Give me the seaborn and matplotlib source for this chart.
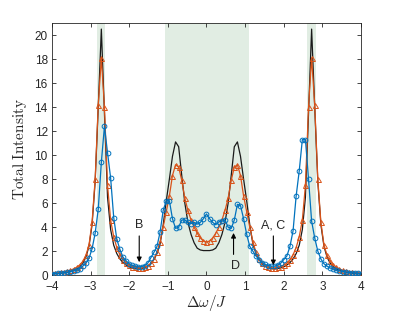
import numpy as np
import pandas as pd
import seaborn as sns
import matplotlib
matplotlib.use("Agg")
import matplotlib.pyplot as plt

# frequency grid (detuning / J)
dw = np.round(np.linspace(-4, 4, 101), 2)

# black line (no markers)
black = [0.10, 0.12, 0.14, 0.17, 0.20, 0.25, 0.31, 0.40, 0.52, 0.70,
         1.00, 1.50, 2.40, 4.20, 7.80, 14.0, 20.5, 13.5, 6.50, 3.80,
         2.50, 1.80, 1.35, 1.05, 0.85, 0.70, 0.60, 0.55, 0.52, 0.55,
         0.62, 0.75, 0.95, 1.30, 1.80, 2.60, 4.20, 6.20, 8.00, 9.90,
         11.1, 10.7, 8.30, 6.00, 4.40, 3.40, 2.70, 2.25, 2.10, 2.05,
         2.05,
         2.05, 2.10, 2.25, 2.70, 3.40, 4.40, 6.00, 8.30, 10.7, 11.1,
         9.90, 8.00, 6.20, 4.20, 2.60, 1.80, 1.30, 0.95, 0.75, 0.62,
         0.55, 0.52, 0.55, 0.60, 0.70, 0.85, 1.05, 1.35, 1.80, 2.50,
         3.80, 6.50, 13.5, 20.5, 14.0, 7.80, 4.20, 2.40, 1.50, 1.00,
         0.70, 0.52, 0.40, 0.31, 0.25, 0.20, 0.17, 0.14, 0.12, 0.10]

# orange triangles
orange = [0.15, 0.17, 0.20, 0.24, 0.28, 0.34, 0.42, 0.52, 0.66, 0.85,
          1.15, 1.65, 2.50, 4.40, 8.00, 14.2, 18.1, 14.0, 7.50, 4.60,
          3.20, 2.30, 1.70, 1.30, 1.00, 0.85, 0.72, 0.65, 0.60, 0.60,
          0.65, 0.78, 1.00, 1.35, 1.90, 2.80, 4.00, 5.30, 6.60, 8.30,
          9.20, 9.00, 7.90, 6.40, 5.40, 4.60, 4.00, 3.50, 3.10, 2.85,
          2.75,
          2.85, 3.10, 3.50, 4.00, 4.60, 5.40, 6.40, 7.90, 9.00, 9.20,
          8.30, 6.60, 5.30, 4.00, 2.80, 1.90, 1.35, 1.00, 0.78, 0.65,
          0.60, 0.60, 0.65, 0.72, 0.85, 1.00, 1.30, 1.70, 2.30, 3.20,
          4.60, 7.50, 14.0, 18.1, 14.2, 8.00, 4.40, 2.50, 1.65, 1.15,
          0.85, 0.66, 0.52, 0.42, 0.34, 0.28, 0.24, 0.20, 0.17, 0.15]

# blue circles
blue = [0.12, 0.13, 0.15, 0.17, 0.20, 0.24, 0.28, 0.34, 0.42, 0.55,
        0.75, 1.00, 1.40, 2.20, 3.50, 5.50, 9.40, 12.4, 10.2, 8.10,
        4.80, 3.00, 2.15, 1.50, 1.20, 0.95, 0.82, 0.75, 0.70, 0.72,
        0.80, 1.00, 1.45, 1.90, 2.40, 3.60, 5.40, 6.20, 6.20, 4.70,
        3.90, 4.00, 4.60, 4.60, 4.40, 4.30, 4.40, 4.25, 4.40, 4.70,
        5.10,
        4.70, 4.40, 4.20, 4.45, 4.50, 4.60, 4.00, 3.90, 4.60, 5.90,
        5.80, 4.70, 3.40, 2.40, 2.00, 1.60, 1.30, 1.05, 0.90, 0.80,
        0.75, 0.75, 0.85, 1.00, 1.30, 1.60, 2.40, 3.70, 6.60, 8.70,
        11.3, 11.3, 8.00, 4.50, 3.10, 2.00, 1.35, 0.95, 0.75, 0.60,
        0.50, 0.42, 0.35, 0.30, 0.26, 0.22, 0.20, 0.17, 0.15, 0.13]

# shaded bands
bands = [(-2.83, -2.62), (-1.08, 1.09), (2.61, 2.83)]

df = pd.DataFrame({"dw": dw, "black": black, "orange": orange, "blue": blue})

sns.set_style("ticks")
plt.rcParams["font.family"] = ["Liberation Sans", "DejaVu Sans"]
plt.rcParams["mathtext.fontset"] = "cm"

fig = plt.figure(figsize=(3.99, 3.12), dpi=100)
ax = fig.add_axes([0.130, 0.118, 0.775, 0.808])

for lo, hi in bands:
    ax.axvspan(lo, hi, color="#e1ede3", lw=0, zorder=0)

sns.lineplot(data=df, x="dw", y="black", ax=ax, color="#1a1a1a", lw=0.9, zorder=3)
sns.lineplot(data=df, x="dw", y="orange", ax=ax, color="#d95319", lw=0.9,
             marker="^", markersize=3.6, markerfacecolor="none",
             markeredgecolor="#d95319", markeredgewidth=0.7, zorder=4)
sns.lineplot(data=df, x="dw", y="blue", ax=ax, color="#0072bd", lw=0.9,
             marker="o", markersize=3.4, markerfacecolor="none",
             markeredgecolor="#0072bd", markeredgewidth=0.7, zorder=5)

ax.set_xlim(-4, 4)
ax.set_ylim(0, 21)
ax.set_xticks(range(-4, 5))
ax.set_yticks(range(0, 21, 2))
ax.tick_params(direction="in", top=True, right=True, length=3, width=0.6,
               labelsize=8.5, colors="#262626")
ax.tick_params(axis="x", pad=4)
ax.tick_params(axis="y", pad=3)
for s in ax.spines.values():
    s.set_linewidth(0.6)
    s.set_color("#262626")
ax.set_xlabel(r"$\Delta\omega/J$", fontsize=11, labelpad=0)
ax.set_ylabel(r"$\mathrm{Total\ Intensity}$", fontsize=11, labelpad=4)

arw = dict(arrowstyle="-|>", color="black", lw=0.8, mutation_scale=7)
ax.annotate("", xy=(-1.74, 0.85), xytext=(-1.74, 3.5), arrowprops=arw, zorder=6)
ax.text(-1.74, 4.15, "B", ha="center", va="center", fontsize=9)
ax.annotate("", xy=(1.73, 0.6), xytext=(1.73, 3.5), arrowprops=arw, zorder=6)
ax.text(1.73, 4.15, "A, C", ha="center", va="center", fontsize=9)
ax.annotate("", xy=(0.7, 3.75), xytext=(0.7, 1.5), arrowprops=arw, zorder=6)
ax.text(0.74, 0.8, "D", ha="center", va="center", fontsize=9)

fig.savefig("out.png", dpi=100)
